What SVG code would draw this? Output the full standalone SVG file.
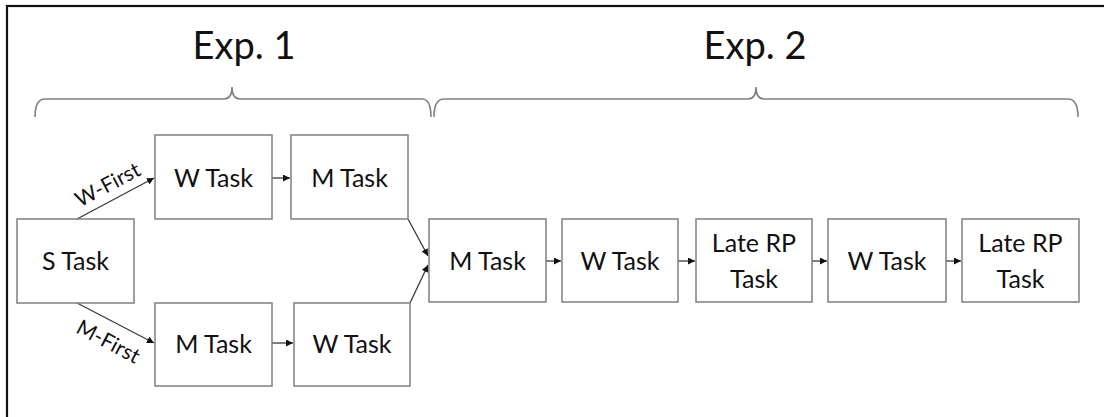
<svg xmlns="http://www.w3.org/2000/svg" width="1104" height="417" viewBox="0 0 1104 417">
  <style>
    .box { fill: #ffffff; stroke: #7f7f7f; stroke-width: 1.5; }
    .lbl { font-family: Lato, "Liberation Sans", sans-serif; font-size: 25px; fill: #111111; text-anchor: middle; }
    .title { font-family: Lato, "Liberation Sans", sans-serif; font-size: 38px; fill: #111111; text-anchor: middle; }
    .edge-lbl { font-family: Lato, "Liberation Sans", sans-serif; font-size: 21px; fill: #111111; text-anchor: middle; }
    .brace { fill: none; stroke: #808080; stroke-width: 1.6; }
    .conn { fill: none; stroke: #3a3a3a; stroke-width: 1.3; marker-end: url(#arrow); }
  </style>
  <defs>
    <marker id="arrow" viewBox="0 0 10 10" refX="10" refY="5" markerWidth="7" markerHeight="7" markerUnits="userSpaceOnUse" orient="auto">
      <path d="M0,0 L10,5 L0,10 z" fill="#111111"/>
    </marker>
  </defs>

  <rect width="1104" height="417" fill="#ffffff"/>
  <!-- outer frame -->
  <rect x="7" y="6" width="1120" height="430" fill="none" stroke="#111111" stroke-width="2.2"/>

  <!-- experiment headings and braces -->
  <g id="exp1">
    <text class="title" x="244" y="59">Exp. 1</text>
    <path class="brace" d="M35,117 Q35,99 45,99 L224,99 Q232,99 232,87 Q232,99 240,99 L422,99 Q431,99 431,117"/>
  </g>
  <g id="exp2">
    <text class="title" x="755" y="59">Exp. 2</text>
    <path class="brace" d="M434,117 Q434,99 444,99 L748,99 Q756,99 756,87 Q756,99 764,99 L1068,99 Q1078,99 1078,117"/>
  </g>

  <!-- connectors -->
  <g id="connectors">
    <line class="conn" x1="77" y1="219" x2="154" y2="178"/>
    <line class="conn" x1="77" y1="303" x2="154" y2="343"/>
    <line class="conn" x1="272" y1="178" x2="290" y2="178"/>
    <line class="conn" x1="272" y1="343" x2="293" y2="343"/>
    <line class="conn" x1="408" y1="219" x2="428" y2="256"/>
    <line class="conn" x1="410" y1="303" x2="428" y2="265"/>
    <line class="conn" x1="546" y1="261" x2="561" y2="261"/>
    <line class="conn" x1="678" y1="261" x2="695" y2="261"/>
    <line class="conn" x1="812" y1="261" x2="827" y2="261"/>
    <line class="conn" x1="946" y1="261" x2="961" y2="261"/>
    <text class="edge-lbl" x="111" y="191" transform="rotate(-28 111 191)">W-First</text>
    <text class="edge-lbl" x="105" y="348" transform="rotate(28 105 348)">M-First</text>
  </g>

  <!-- Exp. 1 nodes -->
  <g id="s-task">
    <rect class="box" x="17" y="219" width="117" height="84"/>
    <text class="lbl" x="75.5" y="270">S Task</text>
  </g>
  <g id="w-task-1">
    <rect class="box" x="155" y="135" width="117" height="84"/>
    <text class="lbl" x="213.5" y="187">W Task</text>
  </g>
  <g id="m-task-1">
    <rect class="box" x="291" y="135" width="117" height="84"/>
    <text class="lbl" x="349.5" y="187">M Task</text>
  </g>
  <g id="m-task-2">
    <rect class="box" x="155" y="303" width="117" height="83"/>
    <text class="lbl" x="213.5" y="353">M Task</text>
  </g>
  <g id="w-task-2">
    <rect class="box" x="294" y="303" width="116" height="83"/>
    <text class="lbl" x="352" y="353">W Task</text>
  </g>

  <!-- Exp. 2 nodes -->
  <g id="m-task-3">
    <rect class="box" x="429" y="219" width="117" height="83"/>
    <text class="lbl" x="487.5" y="270">M Task</text>
  </g>
  <g id="w-task-3">
    <rect class="box" x="562" y="219" width="116" height="83"/>
    <text class="lbl" x="620" y="270">W Task</text>
  </g>
  <g id="late-rp-1">
    <rect class="box" x="696" y="219" width="116" height="83"/>
    <text class="lbl" x="754" y="252">Late RP</text>
    <text class="lbl" x="754" y="288">Task</text>
  </g>
  <g id="w-task-4">
    <rect class="box" x="828" y="219" width="118" height="83"/>
    <text class="lbl" x="887" y="270">W Task</text>
  </g>
  <g id="late-rp-2">
    <rect class="box" x="962" y="219" width="117" height="83"/>
    <text class="lbl" x="1020.5" y="252">Late RP</text>
    <text class="lbl" x="1020.5" y="288">Task</text>
  </g>
</svg>
